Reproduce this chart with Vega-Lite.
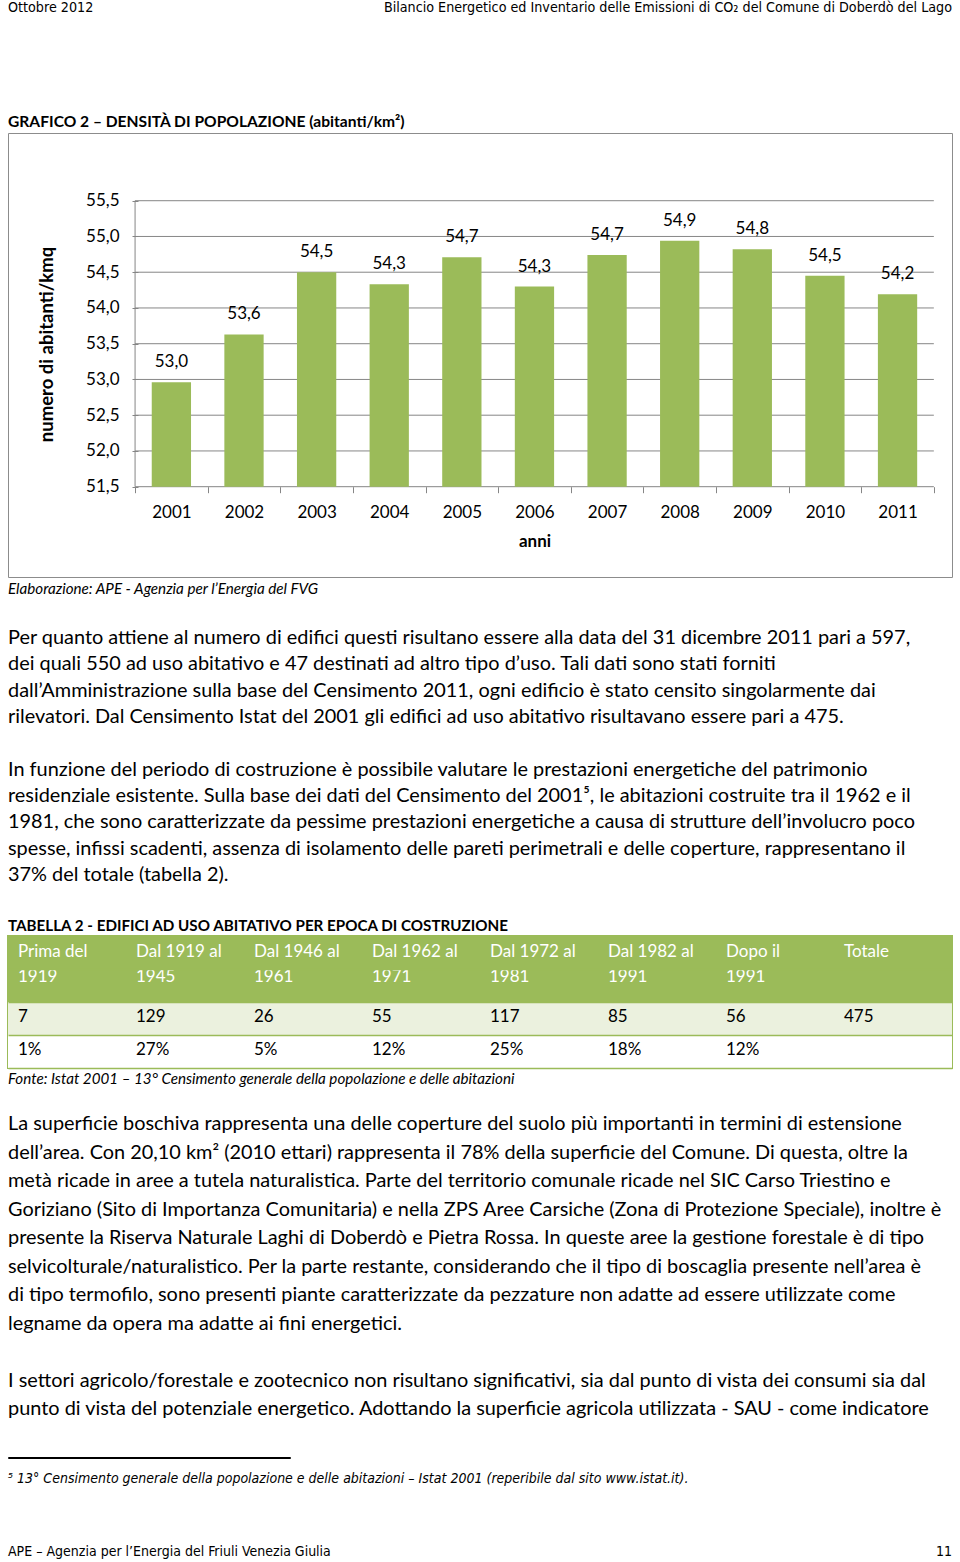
{
  "$schema": "https://vega.github.io/schema/vega-lite/v6.json",
  "padding": {"left": 7, "top": 0, "right": 0, "bottom": 0},
  "spacing": 0,
  "bounds": "flush",
  "background": "#ffffff",
  "config": {
    "view": {"stroke": null},
    "text": {"font": "Lato", "color": "#000000"}
  },
  "datasets": {
    "densita": [
      {"anno": "2001", "valore": 52.96, "etichetta": "53,0"},
      {"anno": "2002", "valore": 53.63, "etichetta": "53,6"},
      {"anno": "2003", "valore": 54.50, "etichetta": "54,5"},
      {"anno": "2004", "valore": 54.33, "etichetta": "54,3"},
      {"anno": "2005", "valore": 54.71, "etichetta": "54,7"},
      {"anno": "2006", "valore": 54.30, "etichetta": "54,3"},
      {"anno": "2007", "valore": 54.74, "etichetta": "54,7"},
      {"anno": "2008", "valore": 54.94, "etichetta": "54,9"},
      {"anno": "2009", "valore": 54.82, "etichetta": "54,8"},
      {"anno": "2010", "valore": 54.45, "etichetta": "54,5"},
      {"anno": "2011", "valore": 54.19, "etichetta": "54,2"}
    ],
    "griglia": [
      {"livello": 51.5}, {"livello": 52.0}, {"livello": 52.5}, {"livello": 53.0}, {"livello": 53.5},
      {"livello": 54.0}, {"livello": 54.5}, {"livello": 55.0}, {"livello": 55.5}
    ],
    "tabella": [
      {"colonna": 1, "riga": "intestazione", "testo": "Prima del"},
      {"colonna": 2, "riga": "intestazione", "testo": "Dal 1919 al"},
      {"colonna": 3, "riga": "intestazione", "testo": "Dal 1946 al"},
      {"colonna": 4, "riga": "intestazione", "testo": "Dal 1962 al"},
      {"colonna": 5, "riga": "intestazione", "testo": "Dal 1972 al"},
      {"colonna": 6, "riga": "intestazione", "testo": "Dal 1982 al"},
      {"colonna": 7, "riga": "intestazione", "testo": "Dopo il"},
      {"colonna": 8, "riga": "intestazione", "testo": "Totale"},
      {"colonna": 1, "riga": "intestazione_bis", "testo": "1919"},
      {"colonna": 2, "riga": "intestazione_bis", "testo": "1945"},
      {"colonna": 3, "riga": "intestazione_bis", "testo": "1961"},
      {"colonna": 4, "riga": "intestazione_bis", "testo": "1971"},
      {"colonna": 5, "riga": "intestazione_bis", "testo": "1981"},
      {"colonna": 6, "riga": "intestazione_bis", "testo": "1991"},
      {"colonna": 7, "riga": "intestazione_bis", "testo": "1991"},
      {"colonna": 8, "riga": "intestazione_bis", "testo": ""},
      {"colonna": 1, "riga": "numeri", "testo": "7"},
      {"colonna": 2, "riga": "numeri", "testo": "129"},
      {"colonna": 3, "riga": "numeri", "testo": "26"},
      {"colonna": 4, "riga": "numeri", "testo": "55"},
      {"colonna": 5, "riga": "numeri", "testo": "117"},
      {"colonna": 6, "riga": "numeri", "testo": "85"},
      {"colonna": 7, "riga": "numeri", "testo": "56"},
      {"colonna": 8, "riga": "numeri", "testo": "475"},
      {"colonna": 1, "riga": "percentuali", "testo": "1%"},
      {"colonna": 2, "riga": "percentuali", "testo": "27%"},
      {"colonna": 3, "riga": "percentuali", "testo": "5%"},
      {"colonna": 4, "riga": "percentuali", "testo": "12%"},
      {"colonna": 5, "riga": "percentuali", "testo": "25%"},
      {"colonna": 6, "riga": "percentuali", "testo": "18%"},
      {"colonna": 7, "riga": "percentuali", "testo": "12%"},
      {"colonna": 8, "riga": "percentuali", "testo": ""}
    ]
  },
  "vconcat": [
    {
      "width": 944, "height": 16,
      "data": {"values": [
        {"lato": "sinistra", "testo": "Ottobre  2012"},
        {"lato": "destra", "testo": "Bilancio Energetico ed Inventario delle Emissioni di CO₂  del Comune di Doberdò del Lago"}
      ]},
      "mark": {"type": "text", "baseline": "middle", "font": "Liberation Sans Narrow, DejaVu Sans Condensed, sans-serif", "fontSize": 14.2, "color": "#000000",
               "align": {"expr": "datum.lato === 'destra' ? 'right' : 'left'"}},
      "encoding": {
        "x": {"field": "lato", "type": "nominal", "scale": {"type": "point", "domain": ["sinistra", "destra"], "padding": 0}, "axis": null},
        "text": {"field": "testo"}
      }
    },
    {
      "width": 944, "height": 117,
      "data": {"values": [{"testo": "GRAFICO 2 – DENSITÀ DI POPOLAZIONE (abitanti/km²)"}]},
      "mark": {"type": "text", "align": "left", "baseline": "middle", "font": "Lato", "fontWeight": "bold", "fontSize": 15.6, "color": "#000000"},
      "encoding": {
        "x": {"datum": "sinistra", "type": "nominal", "scale": {"type": "point", "domain": ["sinistra", "destra"], "padding": 0}, "axis": null},
        "y": {"field": "testo", "type": "nominal", "scale": {"type": "point", "padding": 0, "align": 0.906}, "axis": null},
        "text": {"field": "testo"}
      }
    },
    {
      "width": 944, "height": 444,
      "view": {"stroke": "#8c8c8c", "strokeWidth": 1},
      "layer": [
        {
          "data": {"name": "griglia"},
          "mark": {"type": "rule", "color": "#868686", "strokeWidth": 1},
          "encoding": {
            "y": {"field": "livello", "type": "quantitative"},
            "x": {"datum": "2001", "type": "ordinal", "bandPosition": 0},
            "x2": {"datum": "2011", "bandPosition": 1}
          }
        },
        {
          "data": {"values": [{"asse": "verticale"}]},
          "mark": {"type": "rule", "color": "#868686", "strokeWidth": 1},
          "encoding": {
            "x": {"datum": "2001", "type": "ordinal", "bandPosition": 0},
            "y": {"datum": 51.5, "type": "quantitative"},
            "y2": {"datum": 55.5}
          }
        },
        {
          "data": {"name": "densita"},
          "mark": {"type": "bar", "color": "#9BBB59", "width": {"band": 0.541}},
          "encoding": {
            "x": {
              "field": "anno", "type": "ordinal",
              "scale": {"type": "band", "paddingInner": 0, "paddingOuter": 1, "align": 0.875},
              "axis": {
                "offset": -90.3, "domain": false, "grid": false,
                "tickBand": "extent", "tickSize": 6, "tickColor": "#868686",
                "labelAngle": 0, "labelAlign": "center",
                "labelFont": "Lato", "labelFontSize": 17, "labelColor": "#000000", "labelPadding": 20,
                "title": "anni", "titleFont": "Lato", "titleFontSize": 17, "titleFontWeight": "bold", "titleColor": "#000000",
                "titleX": 526.5, "titleY": 54.3, "titleBaseline": "middle", "titleAlign": "center"
              }
            },
            "y": {
              "field": "valore", "type": "quantitative",
              "scale": {"domain": [50.237, 56.447], "nice": false, "zero": false},
              "axis": {
                "values": [51.5, 52, 52.5, 53, 53.5, 54, 54.5, 55, 55.5],
                "offset": -130, "domain": false, "grid": false,
                "tickSize": 6, "tickColor": "#868686",
                "labelExpr": "replace(format(datum.value, '.1f'), '.', ',')",
                "labelFont": "Lato", "labelFontSize": 17, "labelColor": "#000000", "labelPadding": 13,
                "title": "numero di abitanti/kmq", "titleFont": "Lato", "titleFontSize": 18.5, "titleFontWeight": "bold", "titleColor": "#000000",
                "titleX": -92, "titleY": 211, "titleAngle": -90, "titleBaseline": "middle", "titleAlign": "center"
              }
            },
            "y2": {"datum": 51.5}
          }
        },
        {
          "data": {"name": "densita"},
          "mark": {"type": "text", "baseline": "middle", "align": "center", "dy": -20, "font": "Lato", "fontSize": 17, "color": "#000000"},
          "encoding": {
            "x": {"field": "anno", "type": "ordinal"},
            "y": {"field": "valore", "type": "quantitative"},
            "text": {"field": "etichetta"}
          }
        }
      ]
    },
    {
      "width": 944, "height": 48,
      "data": {"values": [{"testo": "Elaborazione: APE - Agenzia per l’Energia del FVG"}]},
      "mark": {"type": "text", "align": "left", "baseline": "middle", "font": "Lato", "fontStyle": "italic", "fontSize": 15.2, "color": "#000000"},
      "encoding": {
        "x": {"datum": "sinistra", "type": "nominal", "scale": {"type": "point", "domain": ["sinistra", "destra"], "padding": 0}, "axis": null},
        "y": {"field": "testo", "type": "nominal", "scale": {"type": "point", "padding": 0, "align": 0.25}, "axis": null},
        "text": {"field": "testo"}
      }
    },
    {
      "width": 944, "height": 263,
      "data": {"values": [
        {"riga": 1, "testo": "Per quanto attiene al numero di edifici  questi risultano essere alla data del 31 dicembre 2011 pari a 597,"},
        {"riga": 2, "testo": "dei quali 550 ad uso abitativo e 47 destinati ad altro tipo d’uso. Tali dati sono stati forniti"},
        {"riga": 3, "testo": "dall’Amministrazione sulla base del Censimento 2011, ogni edificio è stato censito singolarmente dai"},
        {"riga": 4, "testo": "rilevatori. Dal Censimento Istat del 2001 gli edifici ad uso abitativo risultavano essere pari a 475."},
        {"riga": 5, "testo": ""},
        {"riga": 6, "testo": "In funzione del periodo di costruzione è possibile valutare le prestazioni energetiche del patrimonio"},
        {"riga": 7, "testo": "residenziale esistente. Sulla base dei dati del Censimento del 2001⁵, le abitazioni costruite tra il 1962 e il"},
        {"riga": 8, "testo": "1981, che sono caratterizzate da pessime prestazioni energetiche a causa di strutture dell’involucro poco"},
        {"riga": 9, "testo": "spesse, infissi scadenti, assenza di isolamento delle pareti perimetrali e delle coperture, rappresentano il"},
        {"riga": 10, "testo": "37% del totale (tabella 2)."}
      ]},
      "mark": {"type": "text", "align": "left", "baseline": "middle", "font": "Lato", "fontSize": 19.9, "color": "#000000"},
      "encoding": {
        "x": {"datum": "sinistra", "type": "nominal", "scale": {"type": "point", "domain": ["sinistra", "destra"], "padding": 0}, "axis": null},
        "y": {"field": "riga", "type": "ordinal", "scale": {"type": "point", "padding": 0.5, "align": 0.5}, "axis": null},
        "text": {"field": "testo"}
      }
    },
    {
      "width": 944, "height": 48,
      "data": {"values": [{"testo": "TABELLA 2 - EDIFICI AD USO ABITATIVO PER EPOCA DI COSTRUZIONE"}]},
      "mark": {"type": "text", "align": "left", "baseline": "middle", "font": "Lato", "fontWeight": "bold", "fontSize": 15.2, "color": "#000000"},
      "encoding": {
        "x": {"datum": "sinistra", "type": "nominal", "scale": {"type": "point", "domain": ["sinistra", "destra"], "padding": 0}, "axis": null},
        "y": {"field": "testo", "type": "nominal", "scale": {"type": "point", "padding": 0, "align": 0.792}, "axis": null},
        "text": {"field": "testo"}
      }
    },
    {
      "width": 944, "height": 132,
      "view": {"stroke": "#9BBB59", "strokeWidth": 2},
      "data": {"name": "tabella"},
      "encoding": {
        "y": {
          "field": "riga", "type": "ordinal",
          "scale": {"type": "band", "domain": ["intestazione", "intestazione_bis", "numeri", "percentuali"], "paddingInner": 0, "paddingOuter": 0},
          "axis": {"grid": true, "gridColor": "#9BBB59", "gridWidth": 1.5, "tickBand": "extent", "labels": false, "ticks": false, "domain": false, "title": null, "zindex": 1}
        }
      },
      "layer": [
        {
          "mark": {"type": "rect"},
          "encoding": {
            "x": {"field": "colonna", "type": "ordinal", "scale": {"type": "band", "paddingInner": 0, "paddingOuter": 0}, "axis": null},
            "fill": {"field": "riga", "type": "nominal",
                     "scale": {"domain": ["intestazione", "intestazione_bis", "numeri", "percentuali"], "range": ["#9BBB59", "#9BBB59", "#EBF1DE", "#FFFFFF"]},
                     "legend": null}
          }
        },
        {
          "mark": {"type": "text", "align": "left", "baseline": "middle", "dx": 10, "font": "Lato", "fontSize": 17,
                   "dy": {"expr": "datum.riga === 'intestazione_bis' ? -9 : (datum.riga === 'intestazione' ? -1 : -2)"}},
          "encoding": {
            "x": {"field": "colonna", "type": "ordinal", "bandPosition": 0, "axis": null},
            "text": {"field": "testo"},
            "color": {"condition": {"test": "datum.riga === 'intestazione' || datum.riga === 'intestazione_bis'", "value": "#FFFFFF"}, "value": "#000000"}
          }
        }
      ]
    },
    {
      "width": 944, "height": 47,
      "data": {"values": [{"testo": "Fonte: Istat 2001 – 13° Censimento generale della popolazione e delle abitazioni"}]},
      "mark": {"type": "text", "align": "left", "baseline": "middle", "font": "Lato", "fontStyle": "italic", "fontSize": 15.2, "color": "#000000"},
      "encoding": {
        "x": {"datum": "sinistra", "type": "nominal", "scale": {"type": "point", "domain": ["sinistra", "destra"], "padding": 0}, "axis": null},
        "y": {"field": "testo", "type": "nominal", "scale": {"type": "point", "padding": 0, "align": 0.234}, "axis": null},
        "text": {"field": "testo"}
      }
    },
    {
      "width": 944, "height": 342,
      "data": {"values": [
        {"riga": 1, "testo": "La superficie boschiva rappresenta una delle coperture del suolo più importanti in termini di estensione"},
        {"riga": 2, "testo": "dell’area. Con 20,10  km² (2010 ettari) rappresenta il 78% della superficie  del Comune. Di questa, oltre la"},
        {"riga": 3, "testo": "metà ricade in aree a tutela naturalistica. Parte del territorio comunale ricade nel SIC Carso Triestino e"},
        {"riga": 4, "testo": "Goriziano (Sito di Importanza Comunitaria) e nella ZPS Aree Carsiche (Zona di Protezione Speciale), inoltre è"},
        {"riga": 5, "testo": "presente la Riserva Naturale Laghi di Doberdò e Pietra Rossa. In queste aree la gestione forestale è di tipo"},
        {"riga": 6, "testo": "selvicolturale/naturalistico. Per la parte restante, considerando che il tipo di boscaglia presente nell’area è"},
        {"riga": 7, "testo": "di tipo termofilo, sono presenti  piante caratterizzate da pezzature non adatte ad essere utilizzate come"},
        {"riga": 8, "testo": "legname da opera ma adatte ai fini energetici."},
        {"riga": 9, "testo": ""},
        {"riga": 10, "testo": "I settori agricolo/forestale e zootecnico non risultano significativi, sia dal punto di vista dei consumi sia dal"},
        {"riga": 11, "testo": "punto di vista del potenziale energetico.  Adottando la superficie agricola utilizzata - SAU - come indicatore"}
      ]},
      "mark": {"type": "text", "align": "left", "baseline": "middle", "font": "Lato", "fontSize": 19.9, "color": "#000000"},
      "encoding": {
        "x": {"datum": "sinistra", "type": "nominal", "scale": {"type": "point", "domain": ["sinistra", "destra"], "padding": 0}, "axis": null},
        "y": {"field": "riga", "type": "ordinal", "scale": {"type": "point", "padding": 1.502, "align": 0.1665}, "axis": null},
        "text": {"field": "testo"}
      }
    },
    {
      "width": 282, "height": 1,
      "view": {"stroke": "#000000", "strokeWidth": 1},
      "data": {"values": []},
      "mark": {"type": "rule"},
      "encoding": {}
    },
    {
      "width": 944, "height": 42,
      "data": {"values": [{"testo": "⁵ 13° Censimento generale della popolazione e delle abitazioni – Istat 2001 (reperibile dal sito www.istat.it)."}]},
      "mark": {"type": "text", "align": "left", "baseline": "middle", "font": "Liberation Sans Narrow, DejaVu Sans Condensed, sans-serif", "fontStyle": "italic", "fontSize": 14, "color": "#000000"},
      "encoding": {
        "x": {"datum": "sinistra", "type": "nominal", "scale": {"type": "point", "domain": ["sinistra", "destra"], "padding": 0}, "axis": null},
        "text": {"field": "testo"}
      }
    },
    {
      "width": 944, "height": 62,
      "data": {"values": [
        {"lato": "sinistra", "testo": "APE – Agenzia per l’Energia del Friuli Venezia Giulia"},
        {"lato": "destra", "testo": "11"}
      ]},
      "mark": {"type": "text", "baseline": "middle", "font": "Liberation Sans Narrow, DejaVu Sans Condensed, sans-serif", "fontSize": 14, "color": "#000000",
               "align": {"expr": "datum.lato === 'destra' ? 'right' : 'left'"}},
      "encoding": {
        "x": {"field": "lato", "type": "nominal", "scale": {"type": "point", "domain": ["sinistra", "destra"], "padding": 0}, "axis": null},
        "y": {"datum": "piede", "type": "nominal", "scale": {"type": "point", "padding": 0, "align": 0.839}, "axis": null},
        "text": {"field": "testo"}
      }
    }
  ]
}
